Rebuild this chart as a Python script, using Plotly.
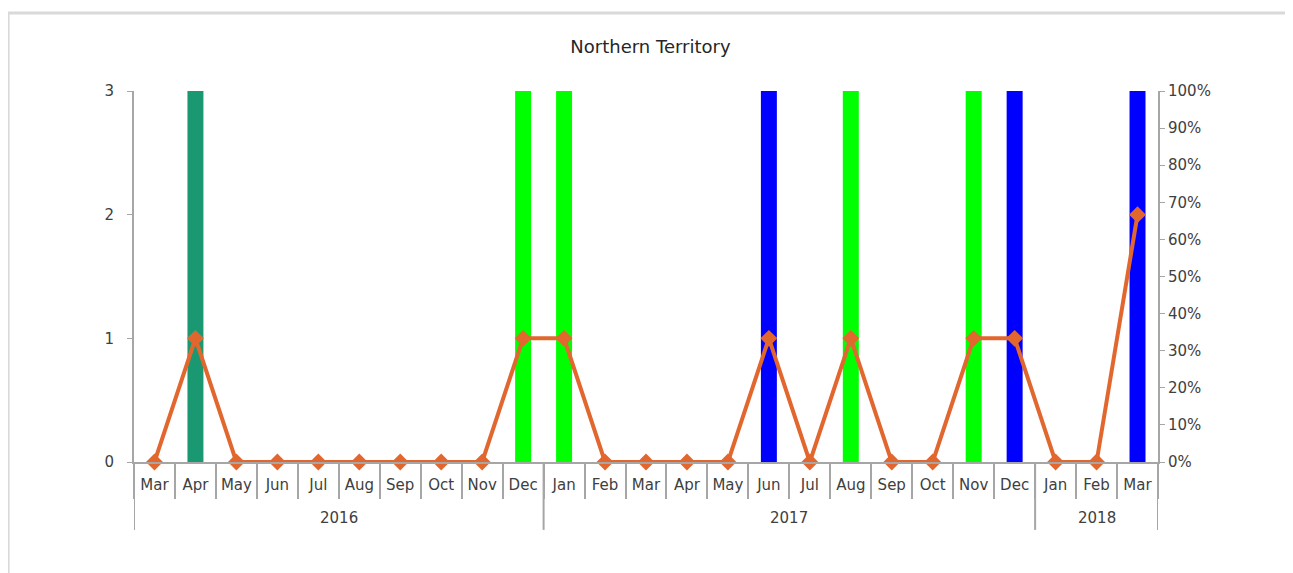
import plotly.graph_objects as go

years = ["2016"] * 10 + ["2017"] * 12 + ["2018"] * 3
months = ["Mar", "Apr", "May", "Jun", "Jul", "Aug", "Sep", "Oct", "Nov", "Dec",
          "Jan", "Feb", "Mar", "Apr", "May", "Jun", "Jul", "Aug", "Sep", "Oct", "Nov", "Dec",
          "Jan", "Feb", "Mar"]

# bar series (count, left axis)
teal_vals = [None, 3] + [None] * 23
lime_vals = [None] * 9 + [3, 3] + [None] * 6 + [3] + [None] * 2 + [3] + [None] * 4
blue_vals = [None] * 15 + [3] + [None] * 5 + [3] + [None] * 2 + [3]

# line series (share, right axis)
share = [0, 1/3, 0, 0, 0, 0, 0, 0, 0, 1/3,
         1/3, 0, 0, 0, 0, 1/3, 0, 1/3, 0, 0, 1/3, 1/3,
         0, 0, 2/3]

cats = [f"{m} {y}" for m, y in zip(months, years)]
axis_col = "#a6a6a6"
txt_col = "#404040"

fig = go.Figure()
for vals, col in [(teal_vals, "#1a9872"), (lime_vals, "#00ff00"), (blue_vals, "#0000ff")]:
    fig.add_trace(go.Bar(x=cats, y=vals, marker=dict(color=col, line=dict(width=0)),
                         width=0.39, showlegend=False))
fig.add_trace(go.Scatter(x=cats, y=share, yaxis="y2", mode="lines+markers",
                         line=dict(color="#e2672f", width=4),
                         marker=dict(symbol="diamond", size=13, color="#e2672f"),
                         showlegend=False, cliponaxis=False))

# year dividers and labels under the month labels
shapes = []
annotations = []
starts = [i for i in range(len(years)) if i == 0 or years[i] != years[i - 1]]
bounds = starts + [len(years)]
for b in bounds:
    shapes.append(dict(type="line", xref="x", yref="paper", x0=b - 0.5, x1=b - 0.5,
                       y0=0, y1=-0.183, line=dict(color=axis_col, width=2)))
for s, e in zip(bounds[:-1], bounds[1:]):
    annotations.append(dict(text=years[s], xref="x", yref="paper", x=(s + e - 1) / 2,
                            y=-0.151, yanchor="middle", showarrow=False,
                            font=dict(size=15, color=txt_col)))

shapes.append(dict(type="rect", xref="paper", yref="paper", x0=-0.123, x1=1.129,
                   y0=-0.6, y1=1.21, line=dict(color="#d9d9d9", width=3),
                   fillcolor="rgba(0,0,0,0)", layer="below"))

# the page body adds an 8px offset, so margins are trimmed by 8px
fig.update_layout(
    width=1285, height=565,
    barmode="overlay",
    plot_bgcolor="white", paper_bgcolor="white",
    font=dict(family="DejaVu Sans", size=15, color=txt_col),
    title=dict(text="Northern Territory", x=0.5, xanchor="center",
               yref="container", y=1 - 39 / 565, yanchor="middle",
               font=dict(size=18, color="#262626")),
    margin=dict(l=126, r=135, t=83, b=111),
    xaxis=dict(type="category", categoryorder="array", categoryarray=cats,
               tickvals=cats, ticktext=months, tickangle=0, range=[-0.5, len(cats) - 0.5],
               showline=True, linecolor=axis_col, linewidth=2,
               ticks="outside", ticklen=35, tickcolor=axis_col, tickwidth=2,
               tickson="boundaries", showgrid=False, automargin=False,
               ticklabelstandoff=8),
    yaxis=dict(range=[0, 3], dtick=1, showline=True, linecolor=axis_col, linewidth=2,
               ticks="outside", ticklen=5, tickcolor=axis_col, showgrid=False,
               zeroline=False, ticklabelstandoff=10, automargin=False),
    yaxis2=dict(range=[0, 1], dtick=0.1, tickformat=".0%", overlaying="y", side="right",
                showline=True, linecolor=axis_col, linewidth=2, ticks="outside",
                ticklen=5, tickcolor=axis_col, showgrid=False, zeroline=False,
                automargin=False),
    shapes=shapes,
    annotations=annotations,
)
fig.write_html("out.html")
